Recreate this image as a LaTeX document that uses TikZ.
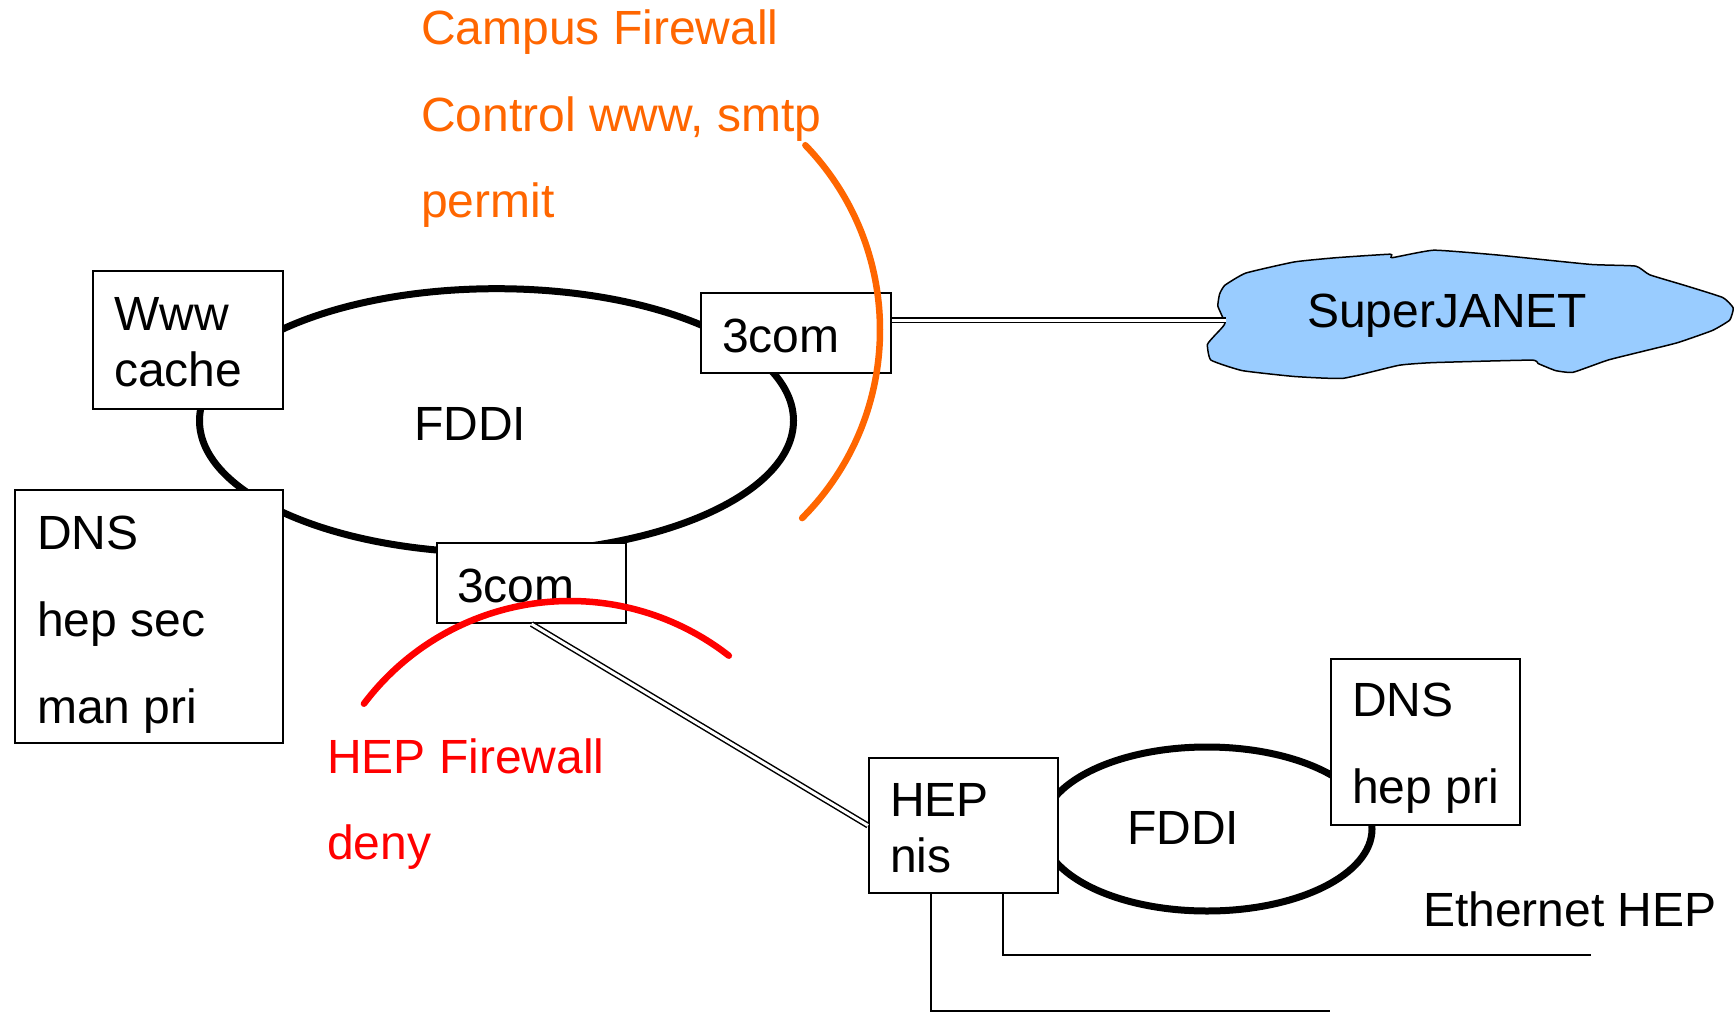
\documentclass[tikz,border=0pt]{standalone}
\usepackage{fontspec}
\setmainfont{Liberation Sans}
\definecolor{campus}{HTML}{FF6600}
\definecolor{hepred}{HTML}{FF0000}
\definecolor{cloudblue}{HTML}{99CCFF}
\begin{document}
\begin{tikzpicture}[x=1pt,y=-1pt,
  lbl/.style={anchor=base west, inner sep=0pt, font=\fontsize{48}{58}\selectfont},
  box/.style={draw, fill=white, line width=2pt, anchor=north west, inner sep=0pt},
  ring/.style={draw, line width=7pt},
  dbl/.style={draw, double, double distance=3pt, line width=1.5pt},
  eth/.style={draw, line width=1.8pt},
  arcline/.style={line width=6.5pt, line cap=round}]
\useasboundingbox (0,0) rectangle (1736,1016);

% FDDI rings
\draw[ring] (496.5,420.7) ellipse [x radius=297, y radius=132];
\draw[ring] (1207,829) ellipse [x radius=165, y radius=82];

% cloud
\draw[fill=cloudblue, line width=1.5pt] plot[smooth cycle, tension=0.25] coordinates {
 (1224.8,323.6) (1217.9,306.2) (1219.6,294) (1224.8,285.3) (1245.7,273.1)
 (1294.5,261.9) (1336.2,257.7) (1390.2,254.2) (1392,257.7) (1433.7,250.2)
 (1496.4,254.9) (1590.4,264.4) (1635.7,266.1) (1649.6,274.8) (1684.4,285.3)
 (1722.7,297.5) (1733.2,307.9) (1729.7,320.1) (1712.3,330.5) (1677.5,342.7)
 (1642.6,351.4) (1607.8,360.1) (1573,372.3) (1555.6,370.6) (1538.2,363.6)
 (1531.2,360.1) (1433.7,362.6) (1398.9,365.3) (1343.2,378.3) (1294.5,376.5)
 (1242.2,370.6) (1210.9,360.1) (1207.4,344.5) (1214.4,335.8)};
\coordinate (cloudW) at (1226,320);

% boxes
\node[box, minimum width=190pt, minimum height=138pt] (www) at (92,270) {};
\node[box, minimum width=268pt, minimum height=253pt] (dnsL) at (14,489) {};
\node[box, minimum width=190pt, minimum height=80pt] (c3top) at (700,292) {};
\node[box, minimum width=189pt, minimum height=80pt] (c3bot) at (436,542) {};
\node[box, minimum width=189pt, minimum height=135pt] (hepnis) at (868,757) {};
\node[box, minimum width=189pt, minimum height=166pt] (dnsR) at (1330,658) {};

% connectors
\draw[dbl] (c3top.east |- cloudW) -- (cloudW);
\draw[dbl] (c3bot.south) -- (hepnis.west);
\coordinate (e1c) at (1003,955);
\coordinate (e1end) at (1591,955);
\coordinate (e2c) at (931,1011);
\coordinate (e2end) at (1330,1011);
\draw[eth] (hepnis.south -| e1c) -- (e1c) -- (e1end);
\draw[eth] (hepnis.south -| e2c) -- (e2c) -- (e2end);

% texts
\node[lbl, text=campus] (t1) at (421,45) {Campus Firewall};
\node[lbl, text=campus] (t2) at (421,132) {Control www, smtp};
\node[lbl, text=campus] (t3) at (421,218) {permit};
\node[lbl] (wwwa) at (114,330) {Www};
\node[lbl] (wwwb) at (114,386) {cache};
\node[lbl] (fddi1) at (414,440) {FDDI};
\node[lbl] (c3ta) at (722,352) {3com};
\node[lbl] (c3ba) at (457,602) {3com};
\node[lbl] (dnsa) at (37,549) {DNS};
\node[lbl] (dnsb) at (37,636) {hep sec};
\node[lbl] (dnsc) at (37,723) {man pri};
\node[lbl, text=hepred] (h1) at (327,773) {HEP Firewall};
\node[lbl, text=hepred] (h2) at (327,859) {deny};
\node[lbl] (hepa) at (890,816) {HEP};
\node[lbl] (hepb) at (890,872) {nis};
\node[lbl] (fddi2) at (1127,844) {FDDI};
\node[lbl] (dnsra) at (1352,716) {DNS};
\node[lbl] (dnsrb) at (1352,803) {hep pri};
\node[lbl] (ethl) at (1423,926) {Ethernet HEP};
\node[lbl] (sj) at (1307,327) {SuperJANET};

% firewall arcs
\draw[arcline, draw=campus] (614,330) ++(-44:266) arc[start angle=-44, end angle=45, radius=266];
\draw[arcline, draw=hepred] (570,859) ++(-143:258) arc[start angle=-143, end angle=-52, radius=258];
\end{tikzpicture}
\end{document}
